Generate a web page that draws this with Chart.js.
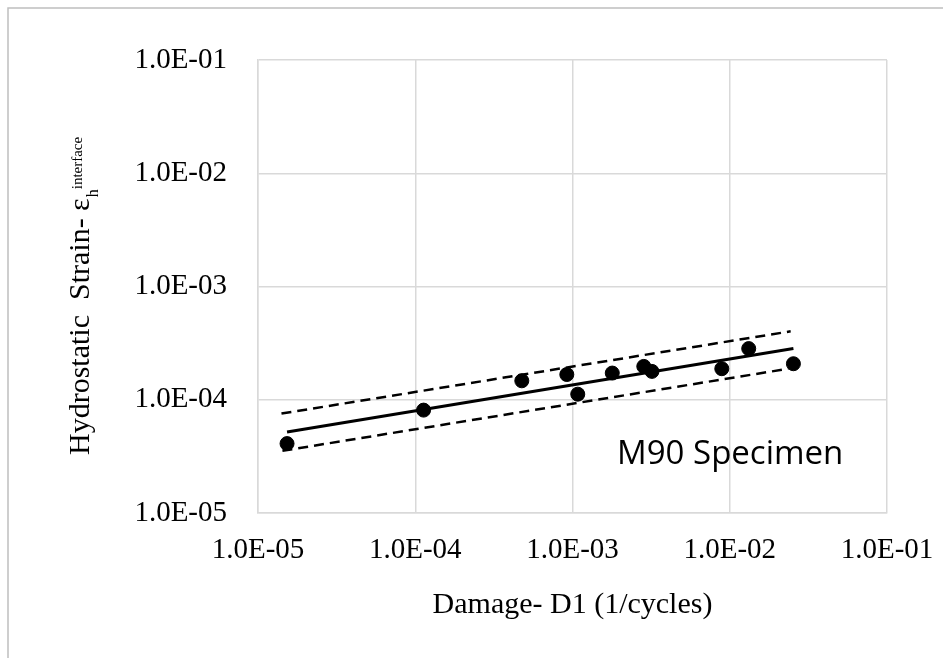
<!DOCTYPE html>
<html>
<head>
<meta charset="utf-8">
<script src="https://cdn.jsdelivr.net/npm/chart.js@4/dist/chart.umd.min.js"></script>
<style>
  html, body { margin: 0; padding: 0; background: #fff; }
  #wrap { width: 943px; height: 658px; }
</style>
</head>
<body>
<div id="wrap"><canvas id="damageChart" width="943" height="658"></canvas></div>
<script>
// dane
const damage = [1.53e-5, 1.13e-4, 4.76e-4, 9.2e-4, 1.08e-3, 1.79e-3, 2.84e-3, 3.2e-3, 8.9e-3, 1.32e-2, 2.54e-2];
const strain = [4.1e-5, 8.1e-5, 1.47e-4, 1.67e-4, 1.12e-4, 1.72e-4, 1.97e-4, 1.78e-4, 1.88e-4, 2.83e-4, 2.08e-4];

// linia trendu i granice (przerywane)
const fitX = [1.53e-5, 2.54e-2];
const fitY = [5.2e-5, 2.83e-4];
const upperX = [1.41e-5, 2.44e-2];
const upperY = [7.55e-5, 4.02e-4];
const lowerX = [1.43e-5, 2.36e-2];
const lowerY = [3.54e-5, 1.88e-4];

const tickValues = [1e-5, 1e-4, 1e-3, 1e-2, 1e-1];
const tickLabels = ['1.0E-05', '1.0E-04', '1.0E-03', '1.0E-02', '1.0E-01'];

const toPts = (xs, ys) => xs.map((x, i) => ({ x: x, y: ys[i] }));

const serif = 'Liberation Serif';
const gridColor = '#d9d9d9';

// ramka wokol calego obszaru
const framePlugin = {
  id: 'frame',
  beforeDraw(chart) {
    const c = chart.ctx;
    c.save();
    c.fillStyle = '#fff';
    c.fillRect(0, 0, chart.width, chart.height);
    c.strokeStyle = '#bfbfbf';
    c.lineWidth = 1.5;
    c.beginPath();
    c.moveTo(8, chart.height);
    c.lineTo(8, 8);
    c.lineTo(chart.width, 8);
    c.stroke();
    c.restore();
  }
};

// tytul osi Y z indeksem dolnym i gornym + napis M90
const labelsPlugin = {
  id: 'labels',
  afterDraw(chart) {
    const c = chart.ctx;
    c.save();
    c.fillStyle = '#000';
    c.translate(89, 455);
    c.rotate(-Math.PI / 2);
    c.textAlign = 'left';
    c.textBaseline = 'alphabetic';
    c.font = '30px "' + serif + '"';
    const main = 'Hydrostatic  Strain- \u03b5';
    c.fillText(main, 0, 0);
    const w = c.measureText(main).width;
    c.font = '16px "' + serif + '"';
    c.fillText('h', w + 1, 9);
    const hw = c.measureText('h').width;
    c.font = '15px "' + serif + '"';
    c.fillText('interface', w + 1 + hw, -7);
    c.restore();

    const xs = chart.scales.x, ys = chart.scales.y;
    c.save();
    c.fillStyle = '#000';
    c.font = '33px "Open Sans"';
    c.textAlign = 'left';
    c.textBaseline = 'middle';
    c.fillText('M90 Specimen', xs.getPixelForValue(1.92e-3), ys.getPixelForValue(3.26e-5));
    c.restore();
  }
};

const ctx = document.getElementById('damageChart').getContext('2d');

const myChart = new Chart(ctx, {
  type: 'scatter',
  data: {
    datasets: [
      {
        label: 'data',
        data: toPts(damage, strain),
        backgroundColor: '#000',
        borderColor: '#000',
        pointRadius: 7,
        order: 0
      },
      {
        label: 'fit',
        type: 'line',
        data: toPts(fitX, fitY),
        borderColor: '#000',
        borderWidth: 3,
        pointRadius: 0,
        fill: false,
        order: 1
      },
      {
        label: 'upper',
        type: 'line',
        data: toPts(upperX, upperY),
        borderColor: '#000',
        borderWidth: 2.5,
        borderDash: [10, 6],
        pointRadius: 0,
        fill: false,
        order: 1
      },
      {
        label: 'lower',
        type: 'line',
        data: toPts(lowerX, lowerY),
        borderColor: '#000',
        borderWidth: 2.5,
        borderDash: [10, 6],
        pointRadius: 0,
        fill: false,
        order: 1
      }
    ]
  },
  options: {
    responsive: false,
    animation: false,
    layout: { padding: { left: 0, top: 60, right: 56, bottom: 0 } },
    plugins: {
      legend: { display: false },
      tooltip: { enabled: false }
    },
    scales: {
      x: {
        type: 'logarithmic',
        min: 1e-5,
        max: 1e-1,
        afterBuildTicks: axis => { axis.ticks = tickValues.map(v => ({ value: v })); },
        afterFit: axis => {
          axis.height = 145;
          axis.paddingLeft = 0;
          axis.paddingRight = 0;
        },
        grid: { color: gridColor, lineWidth: 1.5, drawTicks: false },
        border: { color: gridColor, width: 1.5 },
        ticks: {
          padding: 20,
          color: '#000',
          font: { family: serif, size: 29 },
          maxRotation: 0,
          autoSkip: false,
          callback: (v, i) => tickLabels[i]
        },
        title: {
          display: true,
          text: 'Damage- D1 (1/cycles)',
          color: '#000',
          font: { family: serif, size: 30 },
          padding: { top: 0, bottom: 35 }
        }
      },
      y: {
        type: 'logarithmic',
        min: 1e-5,
        max: 1e-1,
        afterBuildTicks: axis => { axis.ticks = tickValues.map(v => ({ value: v })); },
        afterFit: axis => {
          axis.width = 258;
          axis.paddingTop = 0;
          axis.paddingBottom = 0;
        },
        grid: { color: gridColor, lineWidth: 1.5, drawTicks: false },
        border: { color: gridColor, width: 1.5 },
        ticks: {
          padding: 31,
          color: '#000',
          font: { family: serif, size: 29 },
          autoSkip: false,
          callback: (v, i) => tickLabels[i]
        }
      }
    }
  },
  plugins: [framePlugin, labelsPlugin]
});
</script>
</body>
</html>
